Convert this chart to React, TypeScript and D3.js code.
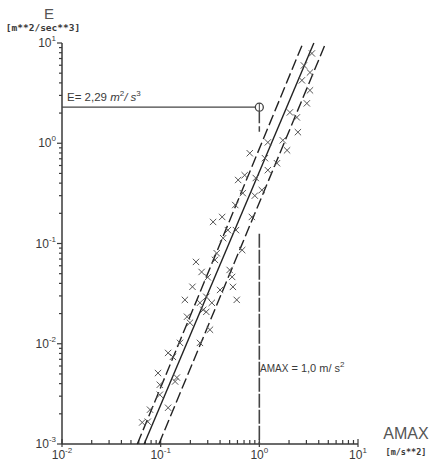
import React, { useEffect, useRef } from 'react';
import * as d3 from 'd3';

// measured points, AMAX [m/s^2] vs E [m^2/s^3]
const amax = [3.41, 3.26, 3.26, 3.03, 2.40, 2.46, 1.73, 1.51, 1.22, 1.06, 0.80, 0.90, 0.68, 0.57, 0.42,
  0.84, 0.43, 0.67, 0.37, 0.50, 0.53, 0.54, 0.26, 0.21, 0.30, 0.59, 0.29, 0.33, 0.25, 0.27, 0.29, 0.198,
  0.316, 0.185, 0.25, 0.157, 0.119, 0.133, 0.094, 0.146, 0.098, 0.140, 0.119, 0.074, 0.065, 1.91, 1.22,
  1.14, 0.71, 0.92, 0.61, 0.48, 0.34, 0.58, 0.355, 0.228, 0.40, 0.176, 0.098, 0.078, 2.83, 2.04, 2.70];
const energy = [7.87, 5.08, 3.37, 2.50, 1.81, 1.29, 1.07, 0.632, 0.539, 0.341, 0.795, 0.30, 0.318, 0.242, 0.184,
  0.184, 0.113, 0.086, 0.080, 0.0545, 0.0464, 0.0369, 0.052, 0.037, 0.046, 0.0274, 0.0294, 0.0256, 0.0256, 0.0218, 0.0208, 0.0162,
  0.0138, 0.0186, 0.0102, 0.0102, 0.0081, 0.0074, 0.0051, 0.0046, 0.0039, 0.0042, 0.0023, 0.00167, 0.00164, 0.85, 1.02,
  0.71, 0.48, 0.45, 0.43, 0.136, 0.164, 0.136, 0.0686, 0.0655, 0.0344, 0.0274, 0.0031, 0.0022, 5.97, 2.03, 4.24];

// regression line and its bounds, [AMAX, E] end points
const fitLine = [[0.068, 0.001], [3.57, 10]];
const lowerBound = [[0.058, 0.001], [2.77, 10]];
const upperBound = [[0.096, 0.001], [4.71, 10]];

const xTickPowers = [-2, -1, 0, 1];
const yTickPowers = [-3, -2, -1, 0, 1];

const refAmax = 1.0;
const refE = 2.29;

function App() {
  const svgRef = useRef(null);

  useEffect(() => {
    const svg = d3.select(svgRef.current);
    svg.selectAll('*').remove();

    const x = d3.scaleLog().domain([0.01, 10]).range([62, 358]);
    const y = d3.scaleLog().domain([0.001, 10]).range([444, 43]);
    const ink = '#3a3a3a';
    const font = 'Liberation Sans, Arial, sans-serif';

    // axes lines
    svg.append('line').attr('x1', x(0.01)).attr('x2', x(0.01)).attr('y1', y(0.001)).attr('y2', y(10))
      .attr('stroke', ink).attr('stroke-width', 1.5);
    svg.append('line').attr('x1', x(0.01)).attr('x2', x(10)).attr('y1', y(0.001)).attr('y2', y(0.001))
      .attr('stroke', ink).attr('stroke-width', 1.5);

    // minor + major ticks
    const xt = x.ticks();
    xt.forEach(v => {
      const major = Math.abs(Math.log10(v) - Math.round(Math.log10(v))) < 1e-6;
      svg.append('line').attr('x1', x(v)).attr('x2', x(v))
        .attr('y1', y(0.001) + (major ? 3 : 0)).attr('y2', y(0.001) - (major ? 5 : 4))
        .attr('stroke', ink).attr('stroke-width', 1.2);
    });
    const yt = y.ticks();
    yt.forEach(v => {
      const major = Math.abs(Math.log10(v) - Math.round(Math.log10(v))) < 1e-6;
      svg.append('line').attr('x1', x(0.01)).attr('x2', x(0.01) - (major ? 5 : 3))
        .attr('y1', y(v)).attr('y2', y(v))
        .attr('stroke', ink).attr('stroke-width', 1.2);
    });

    // tick labels
    xTickPowers.forEach(p => {
      const t = svg.append('text').attr('x', x(Math.pow(10, p))).attr('y', 459)
        .attr('text-anchor', 'middle').attr('font-family', font).attr('font-size', 12).attr('fill', ink);
      t.append('tspan').text('10');
      t.append('tspan').attr('dy', -6).attr('font-size', 8).text(p);
    });
    yTickPowers.forEach(p => {
      const t = svg.append('text').attr('x', 56).attr('y', y(Math.pow(10, p)) + 4)
        .attr('text-anchor', 'end').attr('font-family', font).attr('font-size', 12).attr('fill', ink);
      t.append('tspan').text('10');
      t.append('tspan').attr('dy', -6).attr('font-size', 8).text(p);
    });

    // axis titles
    svg.append('text').attr('x', 49).attr('y', 19).attr('text-anchor', 'middle')
      .attr('font-family', font).attr('font-size', 15).attr('fill', '#555').text('E');
    svg.append('text').attr('x', 43).attr('y', 31).attr('text-anchor', 'middle')
      .attr('font-family', 'DejaVu Sans Mono, monospace').attr('font-size', 9.5).attr('font-weight', 'bold')
      .attr('fill', ink).text('[m**2/sec**3]');
    svg.append('text').attr('x', 406).attr('y', 439).attr('text-anchor', 'middle')
      .attr('font-family', font).attr('font-size', 16).attr('fill', '#555').text('AMAX');
    svg.append('text').attr('x', 406).attr('y', 455).attr('text-anchor', 'middle')
      .attr('font-family', 'DejaVu Sans Mono, monospace').attr('font-size', 8.5).attr('font-weight', 'bold')
      .attr('fill', ink).text('[m/s**2]');

    // reference lines
    svg.append('line').attr('x1', x(0.01)).attr('x2', x(refAmax) - 4).attr('y1', y(refE)).attr('y2', y(refE))
      .attr('stroke', '#444').attr('stroke-width', 1.3);
    svg.append('line').attr('x1', x(refAmax)).attr('x2', x(refAmax)).attr('y1', y(refE) + 4).attr('y2', y(1.3))
      .attr('stroke', '#444').attr('stroke-width', 1.5).attr('stroke-dasharray', '12 3');
    svg.append('line').attr('x1', x(refAmax)).attr('x2', x(refAmax)).attr('y1', y(0.125)).attr('y2', y(0.001))
      .attr('stroke', '#444').attr('stroke-width', 1.6).attr('stroke-dasharray', '14 2');
    svg.append('circle').attr('cx', x(refAmax)).attr('cy', y(refE)).attr('r', 4)
      .attr('fill', 'none').attr('stroke', '#444').attr('stroke-width', 1.3);
    svg.append('line').attr('x1', x(refAmax)).attr('x2', x(refAmax)).attr('y1', y(refE) - 4).attr('y2', y(refE) + 4)
      .attr('stroke', '#444').attr('stroke-width', 1);

    const eText = svg.append('text').attr('x', 67).attr('y', 101)
      .attr('font-family', font).attr('font-size', 11.5).attr('fill', ink);
    eText.append('tspan').text('E= 2,29 ');
    eText.append('tspan').attr('font-style', 'italic').text('m');
    eText.append('tspan').attr('dy', -5).attr('font-size', 8).text('2');
    eText.append('tspan').attr('dy', 5).attr('font-style', 'italic').text('/ s');
    eText.append('tspan').attr('dy', -5).attr('font-size', 8).text('3');

    const aText = svg.append('text').attr('x', 260).attr('y', 372)
      .attr('font-family', font).attr('font-size', 11).attr('fill', ink);
    aText.append('tspan').attr('font-size', 10).text('AMAX');
    aText.append('tspan').text(' = 1,0 m/ s');
    aText.append('tspan').attr('dy', -5).attr('font-size', 8).text('2');

    // fit lines
    const line = d3.line().x(d => x(d[0])).y(d => y(d[1]));
    svg.append('path').datum(fitLine).attr('d', line).attr('fill', 'none')
      .attr('stroke', '#222').attr('stroke-width', 1.4);
    [lowerBound, upperBound].forEach(b => {
      svg.append('path').datum(b).attr('d', line).attr('fill', 'none')
        .attr('stroke', '#222').attr('stroke-width', 1.4).attr('stroke-dasharray', '11 4');
    });

    // data points
    const sym = d3.symbol().type(d3.symbolTimes).size(28);
    svg.selectAll('.pt').data(amax).enter().append('path')
      .attr('class', 'pt')
      .attr('d', sym)
      .attr('transform', (d, i) => `translate(${x(d)},${y(energy[i])})`)
      .attr('fill', 'none').attr('stroke', '#555').attr('stroke-width', 1);
  }, []);

  return <svg ref={svgRef} width={433} height={467}
    style={{ position: 'absolute', left: 0, top: 0, background: '#fff' }} />;
}

export default App;
